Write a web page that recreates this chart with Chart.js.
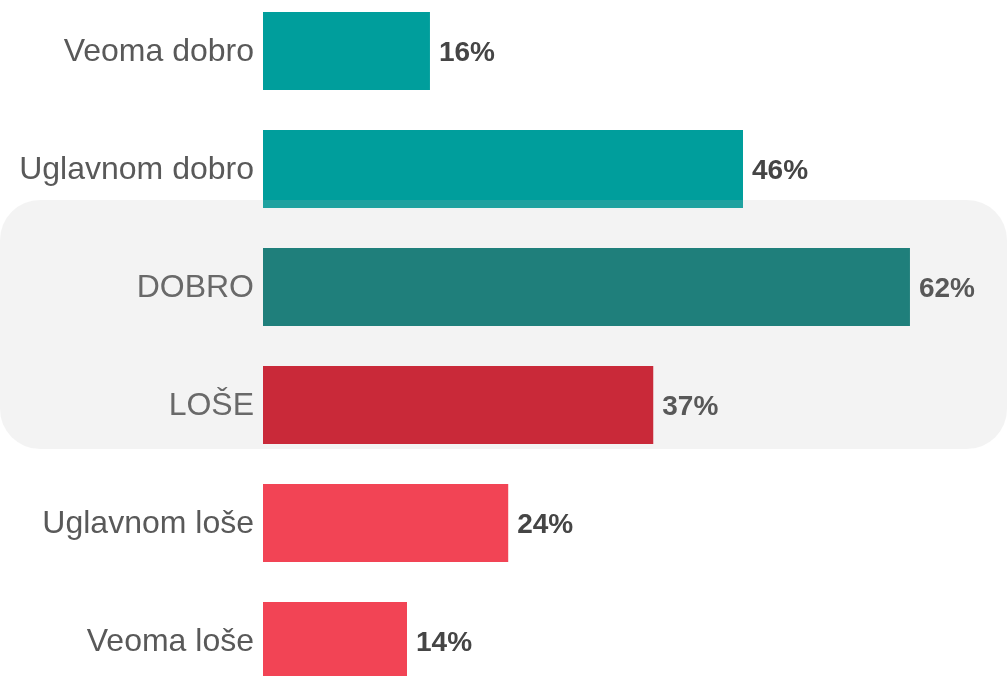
<!DOCTYPE html>
<html>
<head>
<meta charset="utf-8">
<script src="https://cdn.jsdelivr.net/npm/chart.js@4/dist/chart.umd.min.js"></script>
<style>
  html, body { margin: 0; padding: 0; background: #ffffff; overflow: hidden; width: 1007px; height: 676px; }
  #wrap { position: absolute; left: 0; top: -8px; width: 1007px; height: 708px; }
</style>
</head>
<body>
<div id="wrap"><canvas id="c"></canvas></div>
<script>
const categories = ['Veoma dobro', 'Uglavnom dobro', 'DOBRO', 'LOŠE', 'Uglavnom loše', 'Veoma loše'];
const values = [16, 46, 62, 37.4, 23.5, 13.8];
const valueLabels = ['16%', '46%', '62%', '37%', '24%', '14%'];
const barColors = ['#009e9c', '#009e9c', '#00746f', '#cd0d20', '#f24455', '#f24455'];
const highlighted = ['DOBRO', 'LOŠE'];

const overlayPlugin = {
  id: 'overlay',
  afterDatasetsDraw(chart) {
    const ctx = chart.ctx;
    const meta = chart.getDatasetMeta(0);
    const ys = chart.scales.y;
    // value labels
    ctx.save();
    ctx.font = 'bold 28px "Liberation Sans", Arial, sans-serif';
    ctx.fillStyle = '#454545';
    ctx.textAlign = 'left';
    ctx.textBaseline = 'middle';
    meta.data.forEach((bar, i) => {
      ctx.fillText(valueLabels[i], bar.x + 9, bar.y + 2.5);
    });
    ctx.restore();
    // highlight box
    const i0 = categories.indexOf(highlighted[0]);
    const i1 = categories.indexOf(highlighted[1]);
    const step = ys.getPixelForValue(1) - ys.getPixelForValue(0);
    const top = ys.getPixelForValue(i0) - 0.737 * step;
    const bottom = ys.getPixelForValue(i1) + 0.373 * step;
    const left = 0, right = chart.width, r = 40;
    ctx.save();
    ctx.beginPath();
    ctx.moveTo(left + r, top);
    ctx.lineTo(right - r, top);
    ctx.arcTo(right, top, right, top + r, r);
    ctx.lineTo(right, bottom - r);
    ctx.arcTo(right, bottom, right - r, bottom, r);
    ctx.lineTo(left + r, bottom);
    ctx.arcTo(left, bottom, left, bottom - r, r);
    ctx.lineTo(left, top + r);
    ctx.arcTo(left, top, left + r, top, r);
    ctx.closePath();
    ctx.fillStyle = 'rgba(184,184,184,0.17)';
    ctx.fill();
    ctx.restore();
  }
};

new Chart(document.getElementById('c'), {
  type: 'bar',
  data: {
    labels: categories,
    datasets: [{
      data: values,
      backgroundColor: barColors,
      borderWidth: 0,
      barPercentage: 0.661,
      categoryPercentage: 1.0
    }]
  },
  options: {
    indexAxis: 'y',
    responsive: true,
    maintainAspectRatio: false,
    animation: false,
    layout: { padding: 0 },
    plugins: { legend: { display: false }, tooltip: { enabled: false } },
    scales: {
      x: { display: false, min: 0, max: 71.3 },
      y: {
        afterFit(scale) {
          scale.width = 263;
          scale.paddingTop = 0;
          scale.paddingBottom = 0;
        },
        grid: { display: false, drawTicks: false },
        border: { display: false },
        ticks: {
          padding: 9,
          labelOffset: 1.5,
          color: '#595959',
          font: { family: '"Liberation Sans", Arial, sans-serif', size: 32 }
        }
      }
    }
  },
  plugins: [overlayPlugin]
});
</script>
</body>
</html>
